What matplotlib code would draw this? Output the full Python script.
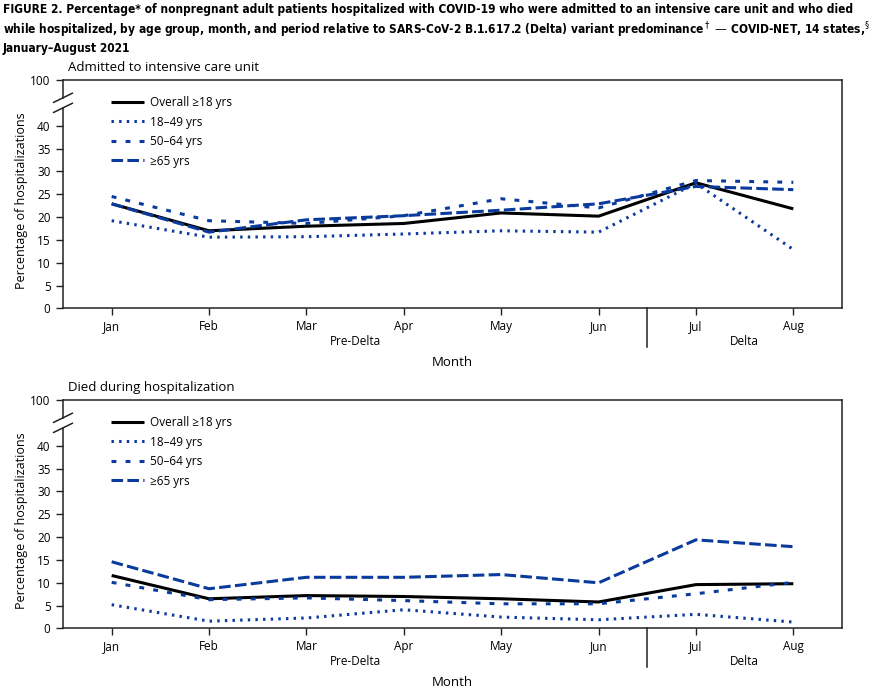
import matplotlib
matplotlib.use("Agg")
import matplotlib.pyplot as plt
import matplotlib.transforms as mtransforms

# Data (percent of hospitalizations)
months = ["Jan", "Feb", "Mar", "Apr", "May", "Jun", "Jul", "Aug"]
series_labels = ["Overall \u226518 yrs", "18\u201349 yrs", "50\u201364 yrs", "\u226565 yrs"]

icu_overall = [22.9, 17.0, 18.0, 18.6, 20.9, 20.2, 27.5, 21.8]
icu_18_49 = [19.2, 15.6, 15.7, 16.3, 17.0, 16.7, 27.4, 12.9]
icu_50_64 = [24.5, 19.2, 18.6, 20.3, 24.0, 22.0, 28.0, 27.6]
icu_65 = [22.9, 16.7, 19.4, 20.3, 21.5, 22.9, 26.7, 26.0]

died_overall = [11.6, 6.5, 7.2, 7.0, 6.5, 5.8, 9.6, 9.8]
died_18_49 = [5.2, 1.6, 2.3, 4.1, 2.5, 1.9, 3.1, 1.4]
died_50_64 = [10.1, 6.3, 6.7, 6.1, 5.4, 5.4, 7.6, 10.1]
died_65 = [14.6, 8.7, 11.2, 11.2, 11.8, 10.0, 19.4, 17.9]

ytick_values = [0, 5, 10, 15, 20, 25, 30, 35, 40, 50]
ytick_labels = ["0", "5", "10", "15", "20", "25", "30", "35", "40", "100"]

plt.rcParams["font.family"] = ["Open Sans", "DejaVu Sans"]

BLUE = "#0a3b9c"
styles = [
    dict(color="black", lw=2.2, linestyle="-"),
    dict(color=BLUE, lw=2.2, linestyle=(0, (0.8, 1.7))),
    dict(color=BLUE, lw=2.2, linestyle=(0, (1.6, 3.0))),
    dict(color=BLUE, lw=2.2, linestyle=(0, (3.8, 1.4))),
]

fig = plt.figure(figsize=(8.7, 6.96), dpi=100)

title = ("FIGURE 2. Percentage* of nonpregnant adult patients hospitalized with COVID-19 who were admitted to an intensive care unit and who died\n"
         "while hospitalized, by age group, month, and period relative to SARS-CoV-2 B.1.617.2 (Delta) variant predominance$^\\dagger$ \u2014 COVID-NET, 14 states,$^\\S$\n"
         "January\u2013August 2021")
fig.text(0.003, 0.995, title, ha="left", va="top", fontsize=8.6, fontweight="bold",
         fontstretch="condensed", family=["DejaVu Sans"], linespacing=1.25)


def draw_panel(ax, data, panel_title):
    x = list(range(len(months)))
    for vals, lab, st in zip(data, series_labels, styles):
        ax.plot(x, vals, label=lab, solid_capstyle="butt", dash_capstyle="butt", **st)

    ax.set_xlim(-0.5, 7.5)
    ax.set_ylim(0, 50)
    ax.set_xticks(x)
    ax.set_xticklabels(months, fontsize=8.5)
    ax.set_yticks(ytick_values)
    ax.set_yticklabels(ytick_labels, fontsize=8.5)
    ax.tick_params(axis="both", length=5, width=1, pad=4, color="#222222")
    ax.tick_params(axis="x", pad=3)
    for s in ax.spines.values():
        s.set_linewidth(1.1)
        s.set_color("#222222")

    # broken left spine between 40 and 100
    ax.spines["left"].set_visible(False)
    ax.plot([0, 0], [0, 43.9], transform=ax.get_yaxis_transform(), color="#222222", lw=1.1, clip_on=False)
    ax.plot([0, 0], [46.1, 50], transform=ax.get_yaxis_transform(), color="#222222", lw=1.1, clip_on=False)
    for yc in (46.1, 43.9):
        ax.plot([-0.012, 0.012], [yc - 1.0, yc + 1.0], transform=ax.get_yaxis_transform(),
                color="#222222", lw=1.1, clip_on=False)

    # period divider and labels
    trans = mtransforms.blended_transform_factory(ax.transData, ax.transAxes)
    ax.plot([5.5, 5.5], [0, -0.167], transform=trans, color="#222222", lw=1.1, clip_on=False)
    ax.text(2.5, -0.145, "Pre-Delta", transform=trans, ha="center", va="center", fontsize=8.5)
    ax.text(6.5, -0.145, "Delta", transform=trans, ha="center", va="center", fontsize=8.5)
    ax.text(3.5, -0.235, "Month", transform=trans, ha="center", va="center", fontsize=9.5)

    ax.set_ylabel("Percentage of hospitalizations", fontsize=9)
    ax.yaxis.set_label_coords(-0.045, 0.47)
    ax.text(0.007, 1.055, panel_title, transform=ax.transAxes, ha="left", va="center", fontsize=9.5)

    ax.legend(loc="upper left", bbox_to_anchor=(0.055, 0.95), frameon=False, fontsize=8.5,
              handlelength=2.8, handletextpad=0.5, labelspacing=0.55, borderaxespad=0)


ax1 = fig.add_axes([0.0724, 0.5568, 0.8954, 0.3283])
draw_panel(ax1, [icu_overall, icu_18_49, icu_50_64, icu_65], "Admitted to intensive care unit")

ax2 = fig.add_axes([0.0724, 0.0970, 0.8954, 0.3283])
draw_panel(ax2, [died_overall, died_18_49, died_50_64, died_65], "Died during hospitalization")

fig.savefig("out.png", dpi=100)
